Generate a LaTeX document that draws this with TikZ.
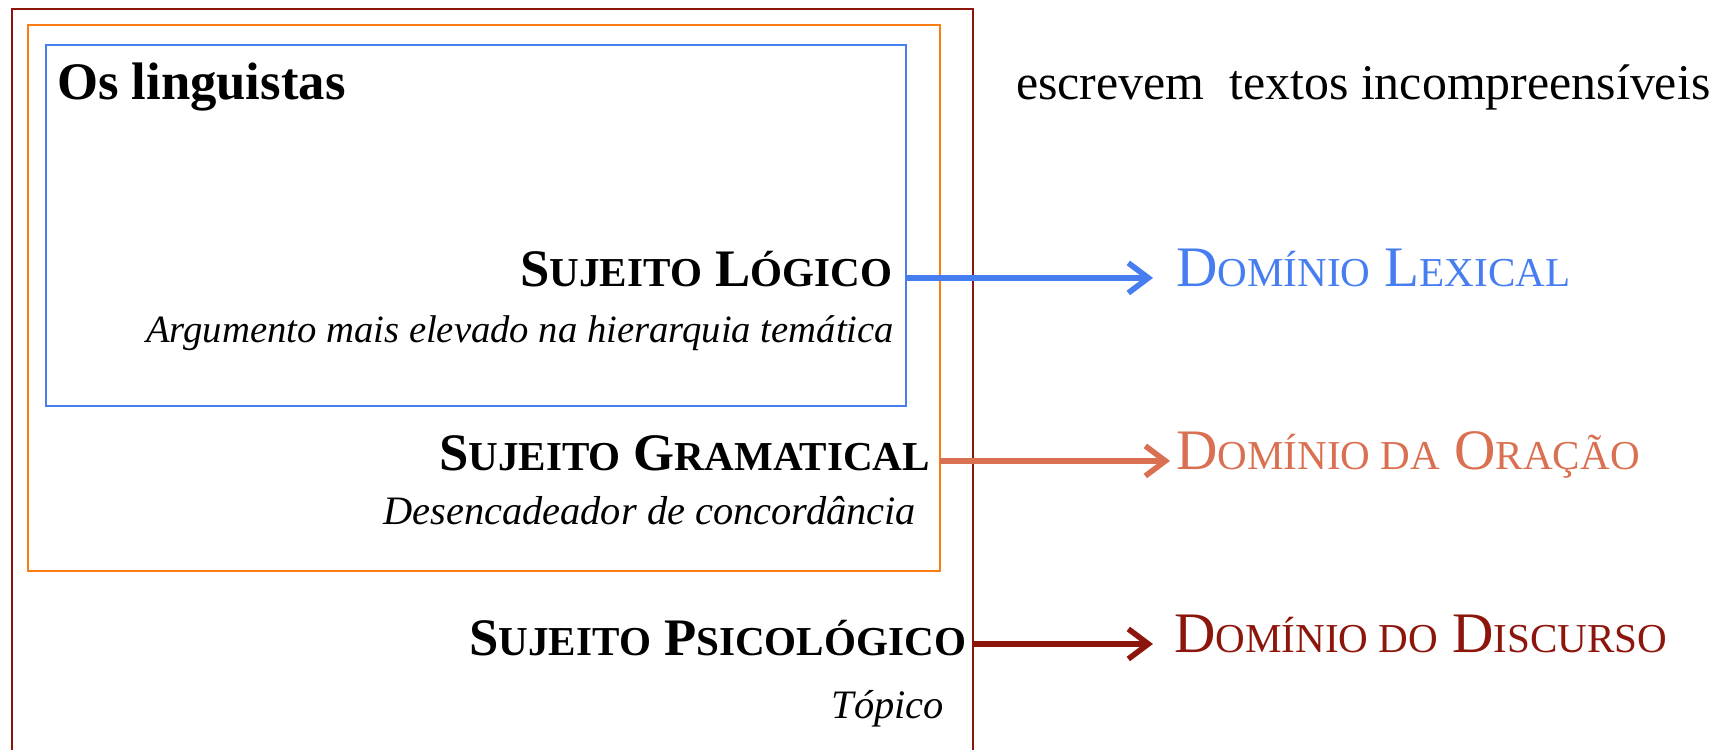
\documentclass[tikz,border=0pt]{standalone}
\usepackage{fontspec}
\setmainfont{Liberation Serif}
\usetikzlibrary{arrows.meta}
\definecolor{lexblue}{RGB}{70,125,240}
\definecolor{oraorange}{RGB}{250,125,20}
\definecolor{orasalmon}{RGB}{218,112,82}
\definecolor{discred}{RGB}{140,22,12}
\newcommand{\pc}[1]{{\fontsize{11.7}{12}\selectfont #1}}
\tikzset{
  box/.style={draw, inner sep=0pt, outer sep=0pt, line width=0.6pt},
  txt/.style={inner sep=0pt, outer sep=0pt},
  subj/.style={txt, anchor=base east, font=\fontsize{15}{18}\selectfont\bfseries},
  gloss/.style={txt, anchor=base east, font=\fontsize{11.5}{14}\selectfont\itshape},
  dom/.style={txt, anchor=base west, font=\fontsize{16.3}{18}\selectfont},
  link/.style={line width=1.6pt, -{Straight Barb[length=2mm,width=3mm]}}
}

\begin{document}
\begin{tikzpicture}[x=0.1mm, y=-0.1mm]
\useasboundingbox (0,0) rectangle (1731,749);
\node(red) [box, draw=discred, line width=0.8pt, minimum width=96.1mm, minimum height=79.1mm] at (492.5,404.5) {};
\node(orange) [box, draw=oraorange, minimum width=91.2mm, minimum height=54.6mm] at (484,298) {};
\node(blue) [box, draw=lexblue, minimum width=86mm, minimum height=36.1mm] at (476,225.5) {};
%
\node(ling) [txt, anchor=base west, font=\fontsize{15}{18}\selectfont\bfseries] at (57,99) {Os linguistas};
\node(escr) [txt, anchor=base west, font=\fontsize{14.2}{17}\selectfont] at (1016,99) {escrevem\ \ textos incompreensíveis};
\node(logico) [subj] at (892,286) {S\pc{UJEITO} L\pc{ÓGICO}};
\node(argum) [gloss, font=\fontsize{11}{14}\selectfont\itshape] at (894,342) {Argumento mais elevado na hierarquia temática};
\node(gramat) [subj] at (930,470) {S\pc{UJEITO} G\pc{RAMATICAL}};
\node(desenc) [gloss] at (916,524) {Desencadeador de concordância};
\node(psico) [subj] at (966,655) {S\pc{UJEITO} P\pc{SICOLÓGICO}};
\node(topico) [gloss] at (944,718) {Tópico};
%
\node(lexical) [dom, text=lexblue] at (1176,286) {D\pc{OMÍNIO} L\pc{EXICAL}};
\node(oracao) [dom, text=orasalmon] at (1176,469) {D\pc{OMÍNIO DA} O\pc{RAÇÃO}};
\node(discurso) [dom, text=discred] at (1174,652) {D\pc{OMÍNIO DO} D\pc{ISCURSO}};
%
\draw[link, lexblue, shorten >=2.3mm] (blue.east |- lexical.mid west) -- (lexical.mid west);
\draw[link, orasalmon, shorten >=0.6mm] (orange.east |- oracao.mid west) -- (oracao.mid west);
\draw[link, discred, shorten >=2.1mm] (red.east |- discurso.mid west) -- (discurso.mid west);
\end{tikzpicture}
\end{document}
